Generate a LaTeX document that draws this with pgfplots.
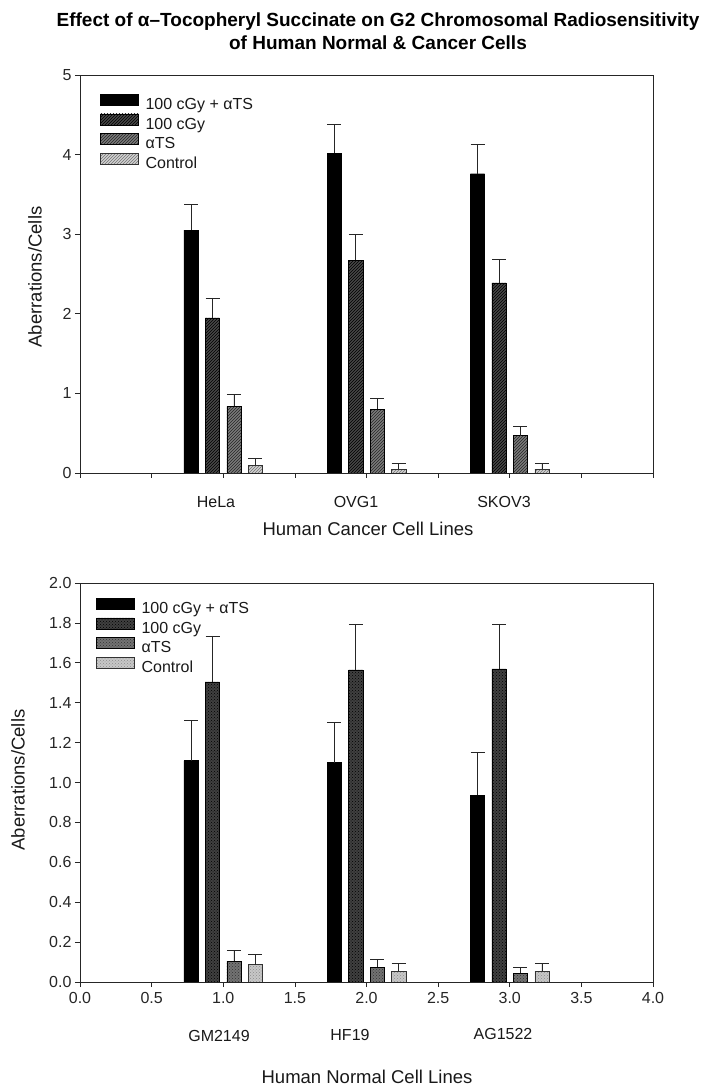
\documentclass[border=0pt]{standalone}
\usepackage{fontspec}
\setmainfont{Liberation Sans}
\usepackage{pgfplots}
\pgfplotsset{compat=1.18}
\usetikzlibrary{patterns}
\pgfplotsset{
  sw/.style={legend image code/.code={\draw[##1] (0pt,-0.5pt) rectangle (38pt,10.5pt); \path (43pt,0pt);}},
  myerr/.style={error bars/.cd, y dir=plus, y explicit,
     error bar style={line width=0.7pt, black!85},
     error mark options={rotate=90, mark size=7pt, line width=0.7pt, black!85}},
  base/.style={
    scale only axis, width=573pt, xmin=0, xmax=4,
    ybar, bar width=0.1,
    axis line style={line width=0.7pt, black!85},
    tick align=outside, major tick length=5pt,
    xtick pos=left, ytick pos=left,
    tick style={line width=0.6pt, black!85},
    tick label style={font=\fontsize{16}{18}\selectfont, text=black!85},
    /pgf/number format/assume math mode=true,
    legend style={draw=none, fill=none, at={(axis description cs:0,1)}, anchor=north west,
      font=\fontsize{16}{18}\selectfont, row sep=0.5pt, inner sep=0pt,
      nodes={inner sep=2pt, text=black!90}},
    legend cell align=left,
  }
}
\begin{document}
\begin{tikzpicture}
\useasboundingbox (0,0) rectangle (707pt,1088pt);
\node[font=\fontsize{19}{20}\selectfont\bfseries] at (378pt,1066pt) {Effect of α–Tocopheryl Succinate on G2 Chromosomal Radiosensitivity};
\node[font=\fontsize{19}{20}\selectfont\bfseries] at (378pt,1045pt) {of Human Normal \& Cancer Cells};

% ---------- top panel ----------
\begin{axis}[base, at={(80pt,615pt)}, anchor=south west, height=398pt,
  ymin=0, ymax=5, ytick={0,1,2,3,4,5},
  xtick={0,0.5,...,4}, xticklabels={},
  legend style={xshift=20pt, yshift=-19pt}]
\addplot[bar shift=0pt, fill=black, draw=black, sw, myerr] coordinates {
 (0.775,3.05) +- (0,0.32) (1.775,4.02) +- (0,0.36) (2.775,3.76) +- (0,0.37)};
\addlegendentry{100 cGy + αTS}
\addplot[bar shift=0pt, fill=black!72, draw=black, postaction={pattern=north east lines, pattern color=black}, sw, myerr] coordinates {
 (0.925,1.95) +- (0,0.25) (1.925,2.67) +- (0,0.33) (2.925,2.39) +- (0,0.29)};
\addlegendentry{100 cGy}
\addplot[bar shift=0pt, fill=black!52, draw=black, postaction={pattern=north east lines, pattern color=black!85}, sw, myerr] coordinates {
 (1.075,0.84) +- (0,0.15) (2.075,0.80) +- (0,0.14) (3.075,0.47) +- (0,0.11)};
\addlegendentry{αTS}
\addplot[bar shift=0pt, fill=black!18, draw=black!80, postaction={pattern=north east lines, pattern color=black!55}, sw, myerr] coordinates {
 (1.225,0.10) +- (0,0.09) (2.225,0.05) +- (0,0.07) (3.225,0.05) +- (0,0.07)};
\addlegendentry{Control}
\end{axis}
\node[font=\fontsize{16}{18}\selectfont, text=black!90] at (216pt,586pt) {HeLa};
\node[font=\fontsize{16}{18}\selectfont, text=black!90] at (356pt,586pt) {OVG1};
\node[font=\fontsize{16}{18}\selectfont, text=black!90] at (504pt,586pt) {SKOV3};
\node[font=\fontsize{18.5}{20}\selectfont, text=black!90] at (368pt,559pt) {Human Cancer Cell Lines};
\node[font=\fontsize{18.5}{20}\selectfont, text=black!90, rotate=90] at (35pt,811pt) {Aberrations/Cells};

% ---------- bottom panel ----------
\begin{axis}[base, at={(80pt,106pt)}, anchor=south west, height=399pt,
  ymin=0, ymax=2, ytick={0,0.2,...,2.0},
  xtick={0,0.5,...,4},
  xticklabel style={yshift=-2pt, /pgf/number format/.cd, fixed, fixed zerofill, precision=1},
  yticklabel style={/pgf/number format/.cd, fixed, fixed zerofill, precision=1},
  legend style={xshift=16pt, yshift=-15pt}]
\addplot[bar shift=0pt, fill=black, draw=black, sw, myerr] coordinates {
 (0.775,1.11) +- (0,0.20) (1.775,1.10) +- (0,0.20) (2.775,0.935) +- (0,0.215)};
\addlegendentry{100 cGy + αTS}
\addplot[bar shift=0pt, fill=black!75, draw=black, postaction={pattern=crosshatch dots, pattern color=black}, sw, myerr] coordinates {
 (0.925,1.505) +- (0,0.23) (1.925,1.565) +- (0,0.23) (2.925,1.57) +- (0,0.225)};
\addlegendentry{100 cGy}
\addplot[bar shift=0pt, fill=black!55, draw=black, postaction={pattern=crosshatch dots, pattern color=black!80}, sw, myerr] coordinates {
 (1.075,0.105) +- (0,0.052) (2.075,0.075) +- (0,0.037) (3.075,0.043) +- (0,0.03)};
\addlegendentry{αTS}
\addplot[bar shift=0pt, fill=black!22, draw=black!80, postaction={pattern=crosshatch dots, pattern color=black!45}, sw, myerr] coordinates {
 (1.225,0.087) +- (0,0.05) (2.225,0.053) +- (0,0.04) (3.225,0.055) +- (0,0.038)};
\addlegendentry{Control}
\end{axis}
\node[font=\fontsize{16}{18}\selectfont, text=black!90] at (219pt,52pt) {GM2149};
\node[font=\fontsize{16}{18}\selectfont, text=black!90] at (350pt,53pt) {HF19};
\node[font=\fontsize{16}{18}\selectfont, text=black!90] at (503pt,54pt) {AG1522};
\node[font=\fontsize{18.5}{20}\selectfont, text=black!90] at (367pt,11pt) {Human Normal Cell Lines};
\node[font=\fontsize{18.5}{20}\selectfont, text=black!90, rotate=90] at (18pt,308pt) {Aberrations/Cells};
\end{tikzpicture}
\end{document}
